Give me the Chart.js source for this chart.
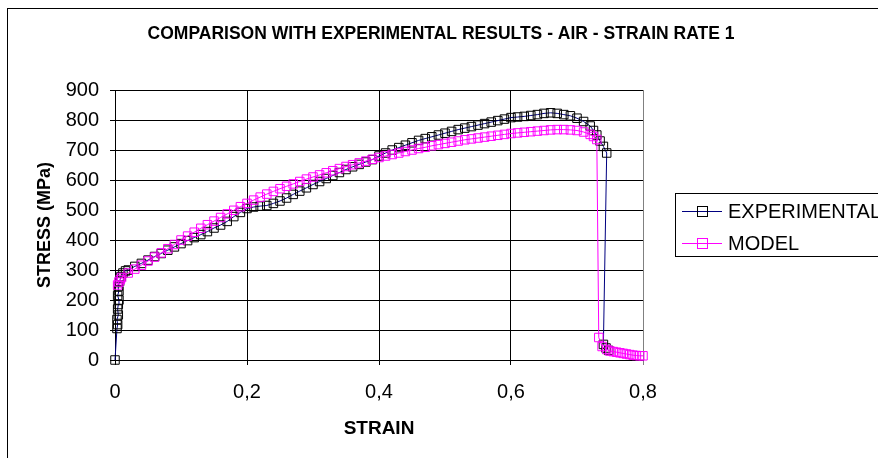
<!DOCTYPE html>
<html>
<head>
<meta charset="utf-8">
<title>Comparison with experimental results</title>
<script src="https://cdn.jsdelivr.net/npm/chart.js@4/dist/chart.umd.min.js"></script>
<style>
body{margin:0;background:#fff;}
#wrap{width:878px;height:458px;}
</style>
</head>
<body>
<div id="wrap"><canvas id="grafico" width="878" height="458"></canvas></div>
<script>
// =======================================
// DATA
// =======================================

let titulo = "COMPARISON WITH EXPERIMENTAL RESULTS - AIR - STRAIN RATE 1";

let expStrain = [
0, 0.003, 0.004, 0.003, 0.005, 0.004, 0.005, 0.006, 0.004, 0.006, 0.005, 0.007, 0.009, 0.012, 0.016, 0.02,
0.03, 0.04, 0.05, 0.06, 0.07, 0.08, 0.09, 0.10, 0.11, 0.12, 0.13, 0.14, 0.15, 0.16, 0.17, 0.18, 0.19, 0.20,
0.21, 0.22, 0.23, 0.24, 0.25, 0.26, 0.27, 0.28, 0.29, 0.30, 0.31, 0.32, 0.33, 0.34, 0.35, 0.36, 0.37, 0.38,
0.39, 0.40, 0.41, 0.42, 0.43, 0.44, 0.45, 0.46, 0.47, 0.48, 0.49, 0.50, 0.51, 0.52, 0.53, 0.54, 0.55, 0.56,
0.57, 0.58, 0.59, 0.60, 0.61, 0.62, 0.63, 0.64, 0.65, 0.66, 0.67, 0.68, 0.69, 0.70, 0.71, 0.72,
0.725, 0.73, 0.735, 0.74, 0.745, 0.74, 0.744, 0.748
];

let expStress = [
0, 105, 118, 135, 150, 170, 185, 200, 215, 230, 245, 262, 278, 290, 297, 300,
312, 322, 333, 345, 355, 366, 377, 388, 398, 408, 418, 428, 440, 450, 462, 478, 492, 505,
510, 513, 515, 522, 530, 540, 552, 563, 574, 585, 595, 605, 615, 625, 635, 644, 652, 660,
668, 680, 690, 700, 708, 716, 724, 732, 738, 744, 750, 756, 762, 768, 773, 778, 783, 788,
793, 798, 803, 808, 810, 812, 815, 818, 822, 824, 822, 818, 814, 806, 795, 780,
765, 750, 730, 712, 690, 52, 40, 32
];

let modelStrain = [
0.004, 0.006, 0.008, 0.01, 0.02, 0.03, 0.04, 0.05, 0.06, 0.07, 0.08, 0.09, 0.10,
0.11, 0.12, 0.13, 0.14, 0.15, 0.16, 0.17, 0.18, 0.19, 0.20, 0.21, 0.22, 0.23, 0.24, 0.25,
0.26, 0.27, 0.28, 0.29, 0.30, 0.31, 0.32, 0.33, 0.34, 0.35, 0.36, 0.37, 0.38, 0.39, 0.40,
0.41, 0.42, 0.43, 0.44, 0.45, 0.46, 0.47, 0.48, 0.49, 0.50, 0.51, 0.52, 0.53, 0.54, 0.55,
0.56, 0.57, 0.58, 0.59, 0.60, 0.61, 0.62, 0.63, 0.64, 0.65, 0.66, 0.67, 0.68, 0.69, 0.70,
0.71, 0.72, 0.725, 0.73, 0.733, 0.738, 0.745, 0.75, 0.755, 0.76, 0.765, 0.77, 0.775,
0.78, 0.785, 0.79, 0.795, 0.80
];

let modelStress = [
250, 260, 268, 275, 290, 303, 316, 330, 343, 357, 371, 385, 400,
413, 426, 439, 451, 463, 475, 487, 499, 511, 522, 533, 543, 553, 562, 571,
579, 587, 595, 603, 610, 617, 624, 631, 638, 645, 651, 657, 663, 669, 675,
680, 685, 690, 695, 700, 705, 709, 714, 718, 722, 726, 730, 734, 737, 740,
743, 746, 749, 752, 755, 757, 759, 761, 763, 765, 767, 768, 768, 767, 765,
760, 752, 745, 735, 75, 45, 35, 30, 28, 26, 24, 22, 20,
18, 16, 15, 14, 14
];

let xTicks = [0, 0.2, 0.4, 0.6, 0.8];
let yTicks = [0, 100, 200, 300, 400, 500, 600, 700, 800, 900];

let fonte = "'Liberation Sans', Arial, sans-serif";


function pontos(xs, ys){
  return xs.map((x, i) => ({x: x, y: ys[i]}));
}


// =======================================
// FRAME, TITLE + LEGEND (Excel style)
// =======================================

let moldura = {
  id: "moldura",
  beforeDraw(chart){
    let ctx = chart.ctx;
    ctx.save();
    ctx.fillStyle = "#fff";
    ctx.fillRect(0, 0, chart.width, chart.height);
    ctx.strokeStyle = "#000";
    ctx.lineWidth = 1;
    ctx.strokeRect(7.5, 8.5, 1000, 1000);
    ctx.fillStyle = "#000";
    ctx.font = "bold 17.5px " + fonte;
    ctx.textAlign = "center";
    ctx.textBaseline = "middle";
    ctx.fillText(titulo, 441, 34);
    ctx.restore();
  }
};

let legenda = {
  id: "legenda",
  afterDraw(chart){
    let ctx = chart.ctx;
    ctx.save();
    ctx.strokeStyle = "#000";
    ctx.lineWidth = 1;
    ctx.strokeRect(675.5, 193.5, 300, 63);
    chart.data.datasets.forEach((ds, i) => {
      let y = 211 + i * 32;
      ctx.strokeStyle = ds.borderColor;
      ctx.beginPath();
      ctx.moveTo(682, y + 0.5);
      ctx.lineTo(722, y + 0.5);
      ctx.stroke();
      ctx.strokeStyle = ds.pointBorderColor;
      ctx.strokeRect(697.5, y - 4.5, 10, 10);
      ctx.fillStyle = "#000";
      ctx.font = "20px " + fonte;
      ctx.textBaseline = "middle";
      ctx.textAlign = "left";
      ctx.fillText(ds.label, 728, y + 1);
    });
    ctx.restore();
  }
};


// =======================================
// CHART
// =======================================

new Chart(
document.getElementById("grafico"),
{
type: "line",
data: {
  datasets: [
    {
      label: "EXPERIMENTAL",
      data: pontos(expStrain, expStress),
      borderColor: "#000080",
      borderWidth: 1,
      pointStyle: "rect",
      pointRadius: 6,
      pointBorderColor: "#000000",
      pointBackgroundColor: "rgba(0,0,0,0)",
      pointBorderWidth: 1,
      clip: false,
      order: 1
    },
    {
      label: "MODEL",
      data: pontos(modelStrain, modelStress),
      borderColor: "#FF00FF",
      borderWidth: 1,
      pointStyle: "rect",
      pointRadius: 6,
      pointBorderColor: "#FF00FF",
      pointBackgroundColor: "rgba(0,0,0,0)",
      pointBorderWidth: 1,
      clip: false,
      order: 0
    }
  ]
},
options: {
  responsive: false,
  animation: false,
  layout: {padding: {left: 0, right: 235, top: 90, bottom: 0}},
  plugins: {
    legend: {display: false},
    tooltip: {enabled: false},
    title: {display: false}
  },
  scales: {
    x: {
      type: "linear",
      min: 0,
      max: 0.8,
      afterFit: s => { s.height = 98; },
      afterBuildTicks: s => { s.ticks = xTicks.map(v => ({value: v})); },
      ticks: {
        color: "#000",
        padding: 15,
        font: {family: fonte, size: 20},
        callback: v => String(v).replace(".", ",")
      },
      grid: {
        color: c => (c.tick && c.tick.value === 0.8) ? "#808080" : "#000",
        tickLength: 5,
        lineWidth: 1
      },
      border: {color: "#000"},
      title: {
        display: true,
        text: "STRAIN",
        color: "#000",
        font: {family: fonte, size: 19, weight: "bold"},
        padding: {top: 0, bottom: 18}
      }
    },
    y: {
      min: 0,
      max: 900,
      afterFit: s => { s.width = 115; },
      afterBuildTicks: s => { s.ticks = yTicks.map(v => ({value: v})); },
      ticks: {
        color: "#000",
        padding: 11,
        font: {family: fonte, size: 20}
      },
      grid: {color: "#000", tickLength: 5, lineWidth: 1},
      border: {color: "#000"},
      title: {
        display: true,
        text: "STRESS (MPa)",
        color: "#000",
        font: {family: fonte, size: 18, weight: "bold"},
        padding: {top: 34, bottom: 0}
      }
    }
  }
},
plugins: [moldura, legenda]
}
);
</script>
</body>
</html>
